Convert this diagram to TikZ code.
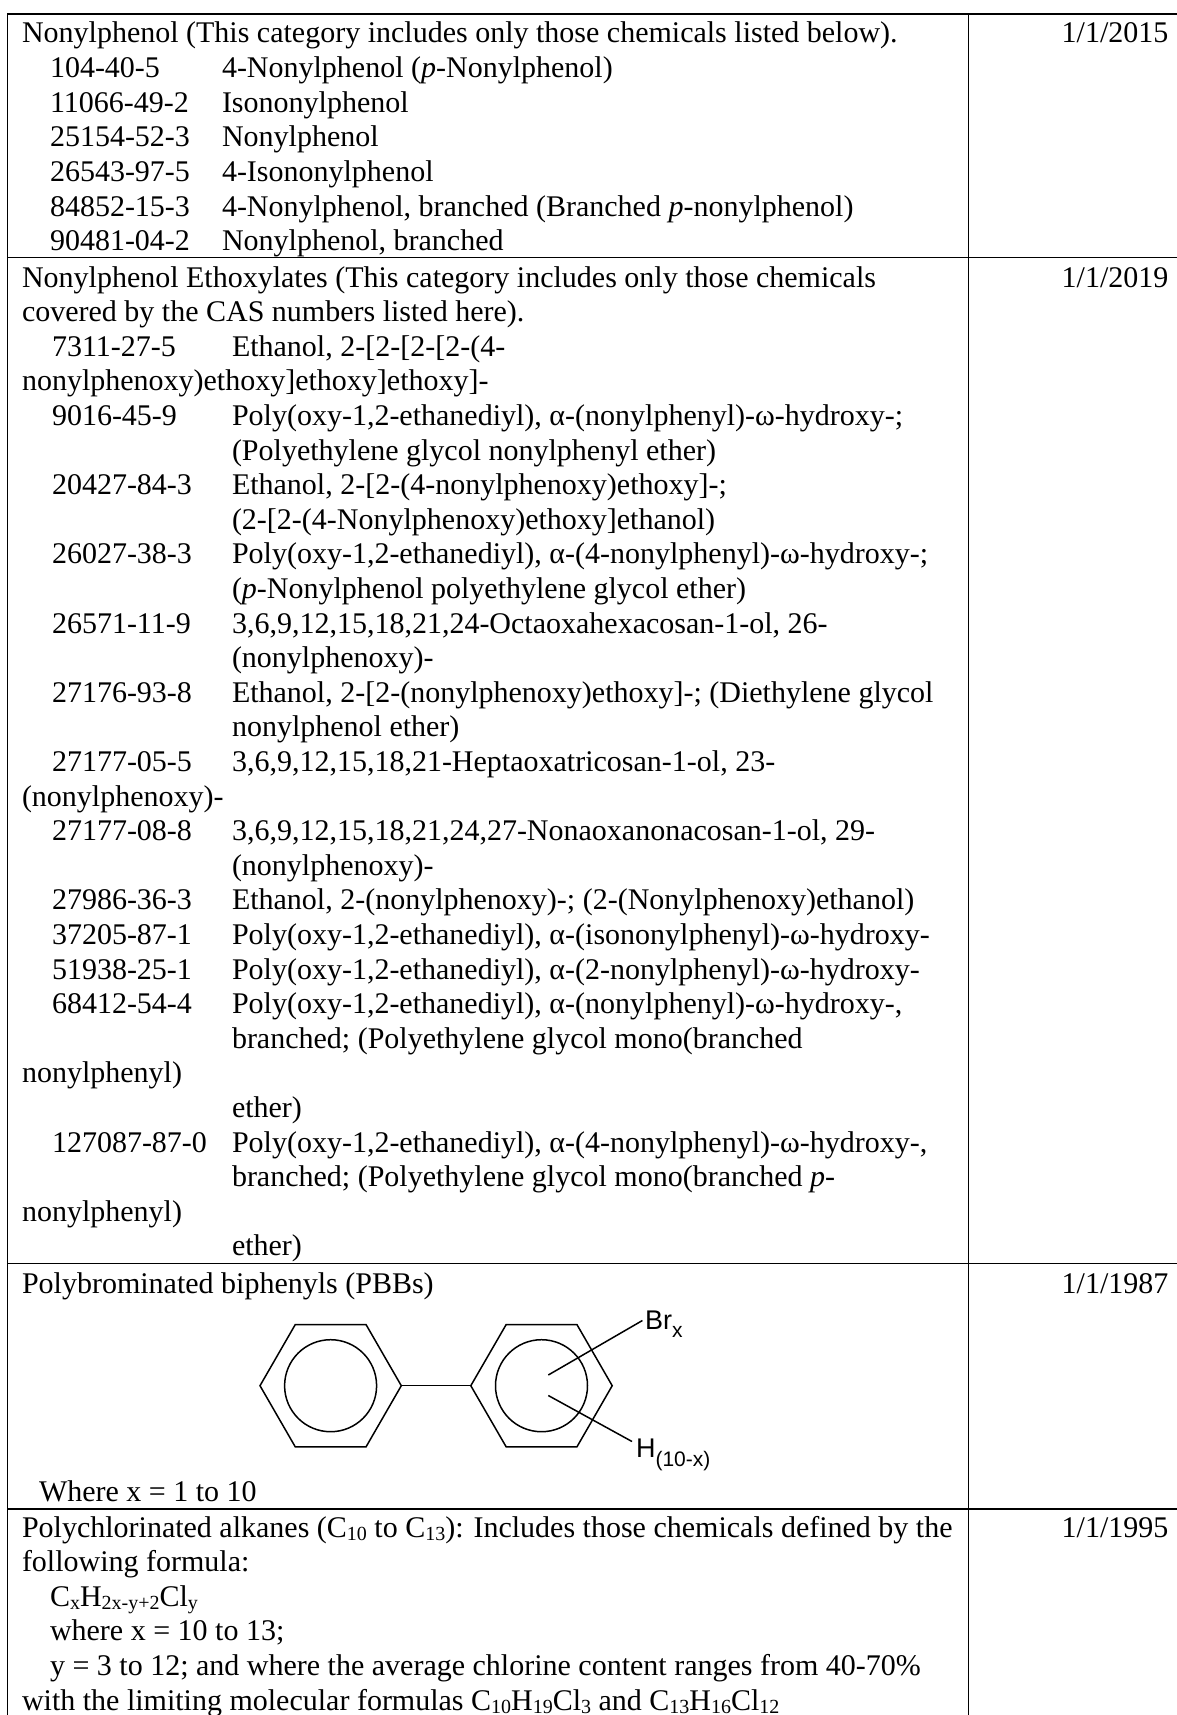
\documentclass[tikz,border=0pt]{standalone}
\usepackage{fontspec}
\setmainfont{Liberation Serif}
\newfontfamily\arialfont{Liberation Sans}
\newcommand\lsub[1]{\raisebox{-3.5pt}{\fontsize{20}{20}\selectfont #1}}
\begin{document}
\begin{tikzpicture}[x=1pt,y=-1pt,
  txt/.style={anchor=base west, inner sep=0pt, outer sep=0pt, font=\fontsize{30}{34.6}\selectfont},
  datetxt/.style={anchor=base, inner sep=0pt, outer sep=0pt, font=\fontsize{30}{34.6}\selectfont},
  rule/.style={line width=1.4pt, black},
  bond/.style={line width=1.5pt, black, line join=miter},
  atom/.style={anchor=base west, inner sep=0pt, outer sep=0pt, font=\arialfont\fontsize{27}{27}\selectfont},
  atomsub/.style={anchor=base west, inner sep=0pt, outer sep=0pt, font=\arialfont\fontsize{21}{21}\selectfont}]
\useasboundingbox (0,0) rectangle (1177,1715);
\fill[white] (0,0) rectangle (1177,1715);
% table rules
\draw[rule] (7.3,14) -- (1177,14);
\draw[rule] (7.3,257.3) -- (1177,257.3);
\draw[rule] (7.3,1263.5) -- (1177,1263.5);
\draw[rule] (7.3,1509) -- (1177,1509);
\draw[rule] (7.3,13.3) -- (7.3,1715);
\draw[rule] (968.3,13.3) -- (968.3,1715);
\begin{scope}[yshift=-1.5pt]
% ---------- Row 1
\def\cA{50}\def\nA{222}
\node[txt] (r1a) at (22,41.5) {Nonylphenol (This category includes only those chemicals listed below).};
\node[txt] (r1b) at (\cA,76.1) {104-40-5};
\node[txt] (r1bn) at (\nA,76.1) {4-Nonylphenol (\textit{p}-Nonylphenol)};
\node[txt] (r1c) at (\cA,110.7) {11066-49-2};
\node[txt] (r1cn) at (\nA,110.7) {Isononylphenol};
\node[txt] (r1d) at (\cA,145.3) {25154-52-3};
\node[txt] (r1dn) at (\nA,145.3) {Nonylphenol};
\node[txt] (r1e) at (\cA,179.9) {26543-97-5};
\node[txt] (r1en) at (\nA,179.9) {4-Isononylphenol};
\node[txt] (r1f) at (\cA,214.5) {84852-15-3};
\node[txt] (r1fn) at (\nA,214.5) {4-Nonylphenol, branched (Branched \textit{p}-nonylphenol)};
\node[txt] (r1g) at (\cA,249.1) {90481-04-2};
\node[txt] (r1gn) at (\nA,249.1) {Nonylphenol, branched};
\node[datetxt] (d1) at (1115,41.5) {1/1/2015};
% ---------- Row 2
\def\cB{52}\def\nB{232}
\node[txt] (r2l0) at (22,285.5) {Nonylphenol Ethoxylates (This category includes only those chemicals};
\node[txt] (r2l1) at (22,320.1) {covered by the CAS numbers listed here).};
\node[txt] (r2c2) at (\cB,354.7) {7311-27-5};
\node[txt] (r2l2) at (\nB,354.7) {Ethanol, 2-[2-[2-[2-(4-};
\node[txt] (r2l3) at (22,389.3) {nonylphenoxy)ethoxy]ethoxy]ethoxy]-};
\node[txt] (r2c4) at (\cB,423.9) {9016-45-9};
\node[txt] (r2l4) at (\nB,423.9) {Poly(oxy-1,2-ethanediyl), α-(nonylphenyl)-ω-hydroxy-;};
\node[txt] (r2l5) at (\nB,458.5) {(Polyethylene glycol nonylphenyl ether)};
\node[txt] (r2c6) at (\cB,493.1) {20427-84-3};
\node[txt] (r2l6) at (\nB,493.1) {Ethanol, 2-[2-(4-nonylphenoxy)ethoxy]-;};
\node[txt] (r2l7) at (\nB,527.7) {(2-[2-(4-Nonylphenoxy)ethoxy]ethanol)};
\node[txt] (r2c8) at (\cB,562.3) {26027-38-3};
\node[txt] (r2l8) at (\nB,562.3) {Poly(oxy-1,2-ethanediyl), α-(4-nonylphenyl)-ω-hydroxy-;};
\node[txt] (r2l9) at (\nB,596.9) {(\textit{p}-Nonylphenol polyethylene glycol ether)};
\node[txt] (r2c10) at (\cB,631.5) {26571-11-9};
\node[txt] (r2l10) at (\nB,631.5) {3,6,9,12,15,18,21,24-Octaoxahexacosan-1-ol, 26-};
\node[txt] (r2l11) at (\nB,666.1) {(nonylphenoxy)-};
\node[txt] (r2c12) at (\cB,700.7) {27176-93-8};
\node[txt] (r2l12) at (\nB,700.7) {Ethanol, 2-[2-(nonylphenoxy)ethoxy]-; (Diethylene glycol};
\node[txt] (r2l13) at (\nB,735.3) {nonylphenol ether)};
\node[txt] (r2c14) at (\cB,769.9) {27177-05-5};
\node[txt] (r2l14) at (\nB,769.9) {3,6,9,12,15,18,21-Heptaoxatricosan-1-ol, 23-};
\node[txt] (r2l15) at (22,804.5) {(nonylphenoxy)-};
\node[txt] (r2c16) at (\cB,839.1) {27177-08-8};
\node[txt] (r2l16) at (\nB,839.1) {3,6,9,12,15,18,21,24,27-Nonaoxanonacosan-1-ol, 29-};
\node[txt] (r2l17) at (\nB,873.7) {(nonylphenoxy)-};
\node[txt] (r2c18) at (\cB,908.3) {27986-36-3};
\node[txt] (r2l18) at (\nB,908.3) {Ethanol, 2-(nonylphenoxy)-; (2-(Nonylphenoxy)ethanol)};
\node[txt] (r2c19) at (\cB,942.9) {37205-87-1};
\node[txt] (r2l19) at (\nB,942.9) {Poly(oxy-1,2-ethanediyl), α-(isononylphenyl)-ω-hydroxy-};
\node[txt] (r2c20) at (\cB,977.5) {51938-25-1};
\node[txt] (r2l20) at (\nB,977.5) {Poly(oxy-1,2-ethanediyl), α-(2-nonylphenyl)-ω-hydroxy-};
\node[txt] (r2c21) at (\cB,1012.1) {68412-54-4};
\node[txt] (r2l21) at (\nB,1012.1) {Poly(oxy-1,2-ethanediyl), α-(nonylphenyl)-ω-hydroxy-,};
\node[txt] (r2l22) at (\nB,1046.7) {branched; (Polyethylene glycol mono(branched};
\node[txt] (r2l23) at (22,1081.3) {nonylphenyl)};
\node[txt] (r2l24) at (\nB,1115.9) {ether)};
\node[txt] (r2c25) at (\cB,1150.5) {127087-87-0};
\node[txt] (r2l25) at (\nB,1150.5) {Poly(oxy-1,2-ethanediyl), α-(4-nonylphenyl)-ω-hydroxy-,};
\node[txt] (r2l26) at (\nB,1185.1) {branched; (Polyethylene glycol mono(branched \textit{p}-};
\node[txt] (r2l27) at (22,1219.7) {nonylphenyl)};
\node[txt] (r2l28) at (\nB,1254.3) {ether)};
\node[datetxt] (d2) at (1115,285.5) {1/1/2019};
% ---------- Row 3 heading
\node[txt] (r3a) at (22,1291.5) {Polybrominated biphenyls (PBBs)};
\node[datetxt] (d3) at (1115,1291.5) {1/1/1987};
\end{scope}
\node[txt] (r3b) at (39,1501) {Where x = 1 to 10};
% biphenyl
\draw[bond] (260,1385.7) -- (295.3,1324.5) -- (366,1324.5) -- (401.3,1385.7) -- (366,1446.9) -- (295.3,1446.9) -- cycle;
\draw[bond] (330.6,1385.7) circle (46);
\draw[bond] (401.3,1385.7) -- (470.8,1385.7);
\draw[bond] (470.8,1385.7) -- (506.2,1324.5) -- (576.9,1324.5) -- (612.2,1385.7) -- (576.9,1446.9) -- (506.2,1446.9) -- cycle;
\draw[bond] (541.5,1385.7) circle (46);
\node[atom] (br) at (645,1329) {Br};
\node[atomsub] (brx) at (br.base east) [yshift=-8pt] {x};
\node[atom] (hh) at (636,1457.5) {H};
\node[atomsub] (hsub) at (hh.base east) [yshift=-9pt] {(10-x)};
\coordinate (brs) at (548.3,1375);
\coordinate (hs) at (548.3,1395.5);
\draw[bond] (brs) -- (642.4,1320.5);
\draw[bond] (hs) -- (632,1441.5);
% ---------- Row 4
\node[txt] (r4a) at (22,1537) {Polychlorinated alkanes (C\lsub{10} to C\lsub{13}): Includes those chemicals defined by the};
\node[txt] (r4b) at (22,1571.6) {following formula:};
\node[txt] (r4c) at (50,1606.2) {C\lsub{x}H\lsub{2x-y+2}Cl\lsub{y}};
\node[txt] (r4d) at (50,1640.8) {where x = 10 to 13;};
\node[txt] (r4e) at (50,1675.4) {y = 3 to 12; and where the average chlorine content ranges from 40-70\%};
\node[txt] (r4f) at (22,1710) {with the limiting molecular formulas C\lsub{10}H\lsub{19}Cl\lsub{3} and C\lsub{13}H\lsub{16}Cl\lsub{12}};
\node[datetxt] (d4) at (1115,1537) {1/1/1995};
\end{tikzpicture}
\end{document}
